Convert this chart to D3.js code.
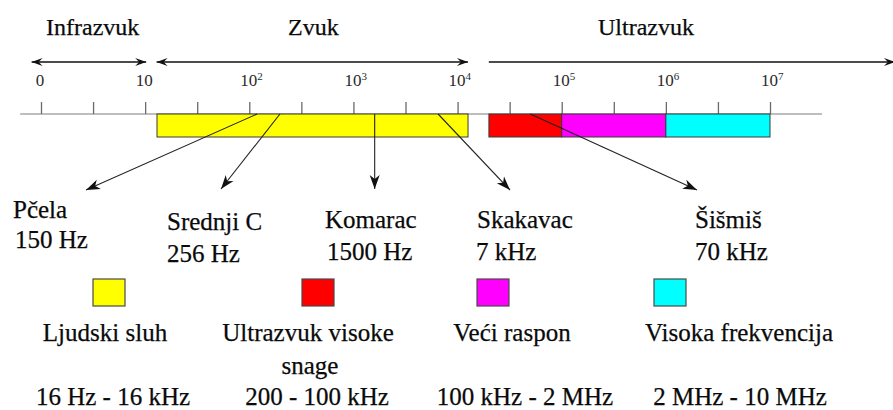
<!DOCTYPE html>
<html>
<head>
<meta charset="utf-8">
<script src="https://cdn.jsdelivr.net/npm/d3@7"></script>
<style>
  html, body { margin: 0; padding: 0; background: #ffffff; }
</style>
</head>
<body>
<script>
// ---------- data ----------
// decade index of axis (0 -> "0", 1 -> "10", 2 -> "10²", ...)
const tickLabelBase = ["0", "10", "10", "10", "10", "10", "10", "10"];
const tickLabelExp  = ["", "", "2", "3", "4", "5", "6", "7"];

const regionNames = ["Infrazvuk", "Zvuk", "Ultrazvuk"];
const regionFrom  = [-0.09, 1.11, 4.30];   // in decades
const regionTo    = [1.01, 4.10, 8.20];
const regionBothHeads = [true, true, false];

const bandNames  = ["Ljudski sluh", "Ultrazvuk visoke snage", "Veći raspon", "Visoka frekvencija"];
const bandRanges = ["16 Hz - 16 kHz", "200 - 100 kHz", "100 kHz - 2 MHz", "2 MHz - 10 MHz"];
const bandStart  = [13, 20000, 100000, 1000000];      // Hz, as drawn
const bandEnd    = [12600, 100000, 1000000, 10000000];
const bandColors = ["#ffff00", "#ff0000", "#ff00ff", "#00ffff"];

const soundNames  = ["Pčela", "Srednji C", "Komarac", "Skakavac", "Šišmiš"];
const soundLabels = ["150 Hz", "256 Hz", "1500 Hz", "7 kHz", "70 kHz"];
const soundAt     = [119, 197, 1600, 6500, 50000];    // Hz, where the arrow leaves the bar

// ---------- layout ----------
const FONT = "'Liberation Serif', Tinos, 'DejaVu Serif', serif";
const TXT = "#0a0a0a";
const W = 893, H = 410;
const axisY = 114, barH = 23;
const svg = d3.select("body").append("svg").attr("width", W).attr("height", H)
  .attr("font-family", FONT);

const x = d3.scaleLinear().domain([0, 7]).range([41, 770]);
const fx = f => x(Math.log10(f));

function textStyle(sel, size) {
  return sel.attr("font-family", FONT).attr("font-size", size)
    .attr("fill", TXT).attr("stroke", TXT).attr("stroke-width", 0.25);
}

// markers
const defs = svg.append("defs");
defs.append("marker").attr("id", "headTop")
  .attr("markerUnits", "userSpaceOnUse").attr("viewBox", "-12 -5 13 10")
  .attr("refX", 0).attr("refY", 0).attr("markerWidth", 13).attr("markerHeight", 10)
  .attr("orient", "auto-start-reverse")
  .append("path").attr("d", "M0,0 L-11,-4 L-7,0 L-11,4 Z").attr("fill", "#111");
defs.append("marker").attr("id", "headBottom")
  .attr("markerUnits", "userSpaceOnUse").attr("viewBox", "-15 -6 16 12")
  .attr("refX", 0).attr("refY", 0).attr("markerWidth", 16).attr("markerHeight", 12)
  .attr("orient", "auto")
  .append("path").attr("d", "M0,0 L-14,-5 L-10,0 L-14,5 Z").attr("fill", "#111");

// region titles and range arrows
const regionTitleX = [46, 288, 598];
textStyle(svg.selectAll("text.region").data(regionNames).join("text"), 24)
  .attr("class", "region")
  .attr("x", (d, i) => regionTitleX[i]).attr("y", 35)
  .text(d => d);

svg.selectAll("line.region").data(regionNames).join("line")
  .attr("class", "region")
  .attr("x1", (d, i) => x(regionFrom[i])).attr("x2", (d, i) => x(regionTo[i]))
  .attr("y1", 62).attr("y2", 62)
  .attr("stroke", "#111").attr("stroke-width", 1.5)
  .attr("marker-end", "url(#headTop)")
  .attr("marker-start", (d, i) => regionBothHeads[i] ? "url(#headTop)" : null);

// tick labels
const tickData = tickLabelBase.map((b, i) => ({ i, base: b, exp: tickLabelExp[i] }));
const tl = svg.append("g").selectAll("text").data(tickData).join("text")
  .attr("font-family", FONT).attr("fill", "#2a2a2a")
  .attr("font-size", 17)
  .attr("y", 86)
  .attr("x", d => d.exp ? x(d.i) - 9 : x(d.i) - 1)
  .attr("text-anchor", d => d.exp ? "start" : "middle");
tl.append("tspan").text(d => d.base);
tl.filter(d => d.exp !== "").append("tspan")
  .attr("font-size", 11).attr("dy", -6)
  .text(d => d.exp);

// baseline
svg.append("line")
  .attr("x1", x(-0.2)).attr("x2", x(7.5))
  .attr("y1", axisY).attr("y2", axisY)
  .attr("stroke", "#a8a8a8").attr("stroke-width", 1.6);

// ticks via d3 axis
const ax = svg.append("g").attr("transform", `translate(0,${axisY})`)
  .call(d3.axisTop(x).tickValues(d3.range(0, 7.01, 0.5)).tickSize(12).tickFormat(""));
ax.select(".domain").remove();
ax.selectAll(".tick line").attr("stroke", "#6a6a6a").attr("stroke-width", 1.3);

// bars
svg.selectAll("rect.band").data(bandNames).join("rect")
  .attr("class", "band")
  .attr("x", (d, i) => fx(bandStart[i]))
  .attr("width", (d, i) => fx(bandEnd[i]) - fx(bandStart[i]))
  .attr("y", axisY).attr("height", barH)
  .attr("fill", (d, i) => bandColors[i])
  .attr("stroke", "#3a3a3a").attr("stroke-width", 1);

// annotation arrows
const targetX = [86, 221, null, 510, 697];
const targetY = [190, 189, 189, 190, 190];
svg.selectAll("line.sound").data(soundNames).join("line")
  .attr("class", "sound")
  .attr("x1", (d, i) => fx(soundAt[i])).attr("y1", axisY)
  .attr("x2", (d, i) => targetX[i] === null ? fx(soundAt[i]) : targetX[i])
  .attr("y2", (d, i) => targetY[i])
  .attr("stroke", "#222").attr("stroke-width", 1.1)
  .attr("marker-end", "url(#headBottom)");

// annotation texts
const nameX = [13, 167, 325, 477, 695];
const nameY = [218, 230, 228, 228, 228];
const valX  = [15, 167, 327, 476, 695];
const valY  = [248, 262, 260, 260, 260];
textStyle(svg.selectAll("text.sname").data(soundNames).join("text"), 25)
  .attr("class", "sname")
  .attr("x", (d, i) => nameX[i]).attr("y", (d, i) => nameY[i]).text(d => d);
textStyle(svg.selectAll("text.sval").data(soundLabels).join("text"), 25)
  .attr("class", "sval")
  .attr("x", (d, i) => valX[i]).attr("y", (d, i) => valY[i]).text(d => d);

// legend
const swX = [93, 302, 477, 654];
const nameCX = [105, 308, 512, 739];
const rangeCX = [113, 317, 525, 740];
svg.selectAll("rect.sw").data(bandColors).join("rect")
  .attr("class", "sw")
  .attr("x", (d, i) => swX[i]).attr("y", 279)
  .attr("width", 32).attr("height", 27)
  .attr("fill", d => d).attr("stroke", "#4a4a4a").attr("stroke-width", 1.2);

bandNames.forEach((name, i) => {
  const t = textStyle(svg.append("text"), 25).attr("text-anchor", "middle")
    .attr("x", nameCX[i]).attr("y", 341).text(name);
  if (t.node().getComputedTextLength() > 200) {
    const words = name.split(" ");
    const last = words.pop();
    t.text(words.join(" "));
    textStyle(svg.append("text"), 25).attr("text-anchor", "middle")
      .attr("x", nameCX[i] + 2).attr("y", 374).text(last);
  }
});
textStyle(svg.selectAll("text.range").data(bandRanges).join("text"), 25)
  .attr("class", "range").attr("text-anchor", "middle")
  .attr("x", (d, i) => rangeCX[i]).attr("y", 405).text(d => d);
</script>
</body>
</html>
